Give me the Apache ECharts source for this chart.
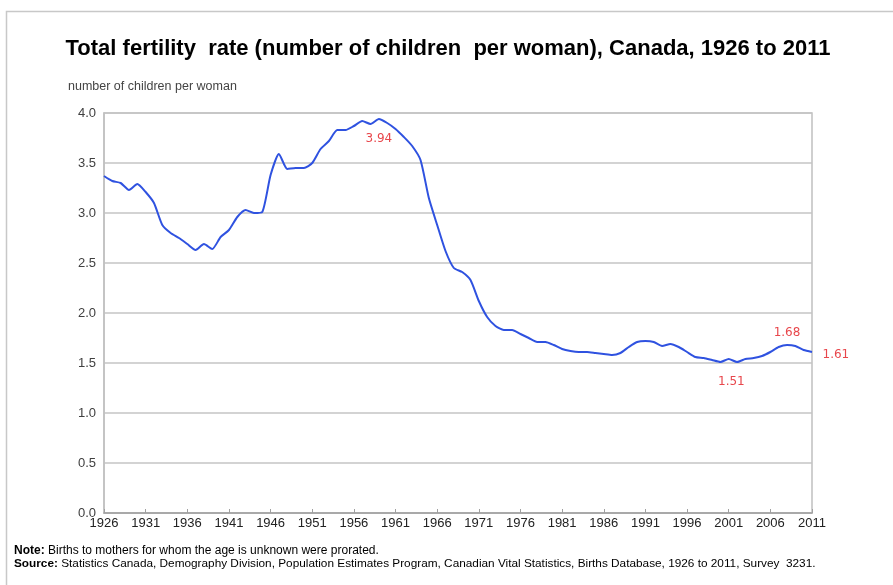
<!DOCTYPE html>
<html>
<head>
<meta charset="utf-8">
<script src="https://cdn.jsdelivr.net/npm/echarts@6/dist/echarts.min.js"></script>
<style>
html,body{margin:0;padding:0;background:#fff;}
#c{width:893px;height:585px;}
</style>
</head>
<body>
<div id="c"></div>
<script>
const years = [];
for (let y = 1926; y <= 2011; y++) years.push(String(y));

const fertility = [
  3.37, 3.32, 3.30, 3.23, 3.29, 3.21, 3.10, 2.88, 2.80, 2.75, // 1926-1935
  2.69, 2.63, 2.69, 2.64, 2.76, 2.83, 2.96, 3.03, 3.00, 3.01, // 1936-1945
  3.38, 3.59, 3.44, 3.45, 3.45, 3.50, 3.64, 3.72, 3.83, 3.83, // 1946-1955
  3.87, 3.92, 3.89, 3.94, 3.90, 3.84, 3.76, 3.67, 3.53, 3.15, // 1956-1965
  2.88, 2.62, 2.45, 2.41, 2.33, 2.12, 1.96, 1.87, 1.83, 1.83, // 1966-1975
  1.79, 1.75, 1.71, 1.71, 1.68, 1.64, 1.62, 1.61, 1.61, 1.60, // 1976-1985
  1.59, 1.58, 1.60, 1.66, 1.71, 1.72, 1.71, 1.67, 1.69, 1.66, // 1986-1995
  1.61, 1.56, 1.55, 1.53, 1.51, 1.54, 1.51, 1.54, 1.55, 1.57, // 1996-2005
  1.61, 1.66, 1.68, 1.67, 1.63, 1.61                          // 2006-2011
];

const yTicks = [0, 0.5, 1.0, 1.5, 2.0, 2.5, 3.0, 3.5, 4.0];

const annotated = {
  '1959': { text: '3.94', position: 'bottom', distance: 13, offset: [0, 0] },
  '2000': { text: '1.51', position: 'bottom', distance: 13, offset: [11, 0] },
  '2008': { text: '1.68', position: 'top', distance: 6, offset: [0, 0] },
  '2011': { text: '1.61', position: 'right', distance: 10, offset: [0, 3] }
};

const title = 'Total fertility  rate (number of children  per woman), Canada, 1926 to 2011';
const yName = 'number of children per woman';

const seriesData = fertility.map((v, i) => {
  const a = annotated[years[i]];
  if (!a) return { value: v, symbol: 'none' };
  return {
    value: v,
    symbol: 'circle',
    symbolSize: 1,
    itemStyle: { color: 'rgba(0,0,0,0)', borderWidth: 0 },
    label: {
      show: true,
      formatter: a.text,
      position: a.position,
      distance: a.distance,
      offset: a.offset,
      color: '#e8474c',
      fontFamily: 'DejaVu Sans',
      fontSize: 12
    }
  };
});

const chart = echarts.init(document.getElementById('c'), null, { renderer: 'canvas' });
chart.setOption({
  animation: false,
  backgroundColor: '#ffffff',
  title: {
    text: title,
    left: 443,
    textAlign: 'center',
    top: 33,
    textStyle: {
      fontFamily: 'Liberation Sans',
      fontWeight: 'bold',
      fontSize: 22,
      color: '#000'
    }
  },
  grid: {
    left: 104,
    right: 81,
    top: 113,
    bottom: 72,
    show: true,
    borderColor: '#c0c0c0',
    borderWidth: 1.5,
    containLabel: false
  },
  xAxis: {
    type: 'category',
    data: years,
    boundaryGap: false,
    axisLine: { show: true, lineStyle: { color: '#a0a0a0', width: 1.5 } },
    axisTick: { show: true, inside: true, length: 4, interval: 4, alignWithLabel: true, lineStyle: { color: '#a0a0a0' } },
    axisLabel: {
      interval: 4,
      color: '#222',
      fontFamily: 'Liberation Sans Narrow, Liberation Sans',
      fontSize: 13,
      margin: 4
    },
    splitLine: { show: false }
  },
  yAxis: {
    type: 'value',
    min: 0,
    max: 4,
    interval: 0.5,
    name: yName,
    nameLocation: 'end',
    nameGap: 20,
    nameTextStyle: {
      align: 'left',
      padding: [0, 0, 0, -36],
      color: '#444',
      fontFamily: 'Liberation Sans Narrow, Liberation Sans',
      fontSize: 12.5
    },
    axisLine: { show: true, lineStyle: { color: '#c0c0c0', width: 1.5 } },
    axisTick: { show: false },
    axisLabel: {
      color: '#404040',
      fontFamily: 'Liberation Sans',
      fontSize: 13,
      margin: 8,
      formatter: v => yTicks.includes(v) ? v.toFixed(1) : ''
    },
    splitLine: { show: true, lineStyle: { color: '#c4c4c4', width: 1.5 } }
  },
  series: [{
    type: 'line',
    data: seriesData,
    showSymbol: true,
    showAllSymbol: true,
    smooth: 0.2,
    lineStyle: { color: '#2f52e0', width: 2 },
    label: { show: false },
    emphasis: { disabled: true }
  }],
  graphic: [
    {
      type: 'rect',
      left: 4,
      top: 9,
      shape: { width: 900, height: 600 },
      style: { fill: 'none', stroke: '#c8c8c8', lineWidth: 1.5 },
      silent: true,
      z: -10
    },
    {
      type: 'text',
      left: 14,
      top: 545,
      style: {
        text: '{b|Note:} Births to mothers for whom the age is unknown were prorated.',
        rich: {
          b: { fontWeight: 'bold', fontFamily: 'Liberation Sans Narrow, Liberation Sans', fontSize: 12, fill: '#000' }
        },
        font: '12px "Liberation Sans Narrow", "Liberation Sans"',
        fill: '#000'
      }
    },
    {
      type: 'text',
      left: 14,
      top: 558,
      style: {
        text: '{b|Source:} Statistics Canada, Demography Division, Population Estimates Program, Canadian Vital Statistics, Births Database, 1926 to 2011, Survey  3231.',
        rich: {
          b: { fontWeight: 'bold', fontFamily: 'Liberation Sans Narrow, Liberation Sans', fontSize: 11.8, fill: '#000' }
        },
        font: '11.8px "Liberation Sans Narrow", "Liberation Sans"',
        fill: '#000'
      }
    }
  ]
});
</script>
</body>
</html>
